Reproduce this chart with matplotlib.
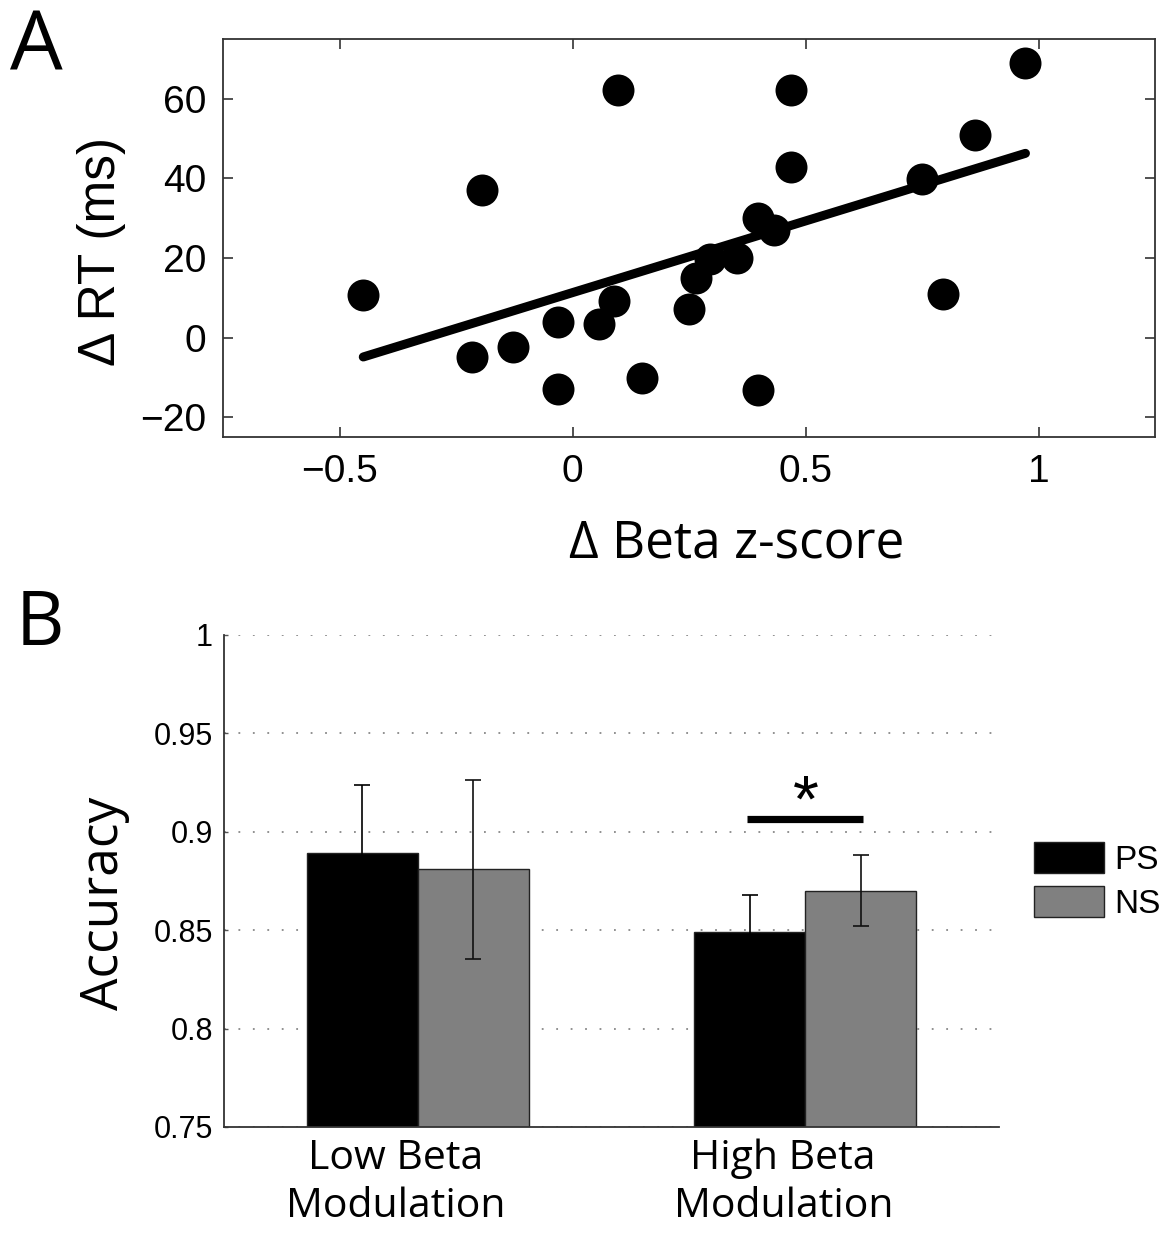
import numpy as np
import matplotlib
matplotlib.use("Agg")
import matplotlib.pyplot as plt
from matplotlib.patches import Patch
from matplotlib.transforms import ScaledTranslation

# panel A: change in beta z-score vs change in RT
beta_z = [-0.449, -0.195, 0.097, -0.215, -0.127, -0.032, -0.032, 0.056, 0.088,
          0.150, 0.249, 0.264, 0.294, 0.354, 0.399, 0.433, 0.399, 0.468, 0.468,
          0.751, 0.796, 0.863, 0.972]
delta_rt = [10.6, 37.1, 62.1, -5.0, -2.5, -12.9, 4.0, 3.5, 9.1,
            -10.3, 7.1, 15.0, 19.7, 19.9, 30.0, 27.0, -13.1, 42.9, 62.3,
            39.9, 10.9, 51.0, 68.9]

# panel B: accuracy per group
groups = ["Low Beta\nModulation", "High Beta\nModulation"]
ps_mean = [0.889, 0.849]
ps_err = [0.035, 0.019]
ns_mean = [0.881, 0.870]
ns_err = [0.0455, 0.018]
sig_x = [1.85, 2.149]
sig_y = 0.9063

helv = "Liberation Sans"
myriad = "Open Sans"
W, H = 1168, 1235

fig = plt.figure(figsize=(W / 100, H / 100), dpi=100)

# ---------------- A ----------------
axA = fig.add_axes([223 / W, 1 - 437 / H, (1155 - 223) / W, (437 - 39) / H])
axA.scatter(beta_z, delta_rt, s=530, color="black", zorder=3, linewidths=0)
coef = np.polyfit(beta_z, delta_rt, 1)
fx = np.array([min(beta_z), max(beta_z)])
axA.plot(fx, np.polyval(coef, fx), color="black", lw=6.5,
         solid_capstyle="round", zorder=2)
axA.set_xlim(-0.75, 1.25)
axA.set_ylim(-25, 75)
axA.set_xticks([-0.5, 0, 0.5, 1])
axA.set_xticklabels(["\u22120.5", "0", "0.5", "1"])
axA.set_yticks([-20, 0, 20, 40, 60])
axA.set_yticklabels(["\u221220", "0", "20", "40", "60"])
axA.tick_params(direction="in", length=7, width=1.2, color="#333333",
                top=True, right=True, labelsize=28, pad=12)
for lab in axA.get_xticklabels() + axA.get_yticklabels():
    lab.set_fontfamily(helv)
for sp in axA.spines.values():
    sp.set_color("#333333")
    sp.set_linewidth(1.3)

fig.text(101 / W, 1 - 251 / H, "\u0394 RT (ms)", rotation=90, ha="center",
         va="center", fontsize=37, family=helv)
fig.text(737 / W, 1 - 557 / H, "\u0394 Beta z-score", ha="center",
         va="baseline", fontsize=37, family=myriad)
fig.text(10 / W, 1 - 70 / H, "A", ha="left", va="baseline", fontsize=60,
         family=myriad)

# ---------------- B ----------------
axB = fig.add_axes([224 / W, 1 - 1127 / H, (999 - 224) / W, (1127 - 635) / H])
x = np.arange(1, len(groups) + 1)
bw = 0.286
axB.bar(x - bw / 2, ps_mean, bw, color="black", edgecolor="#222222",
        linewidth=1, label="PS", zorder=2)
axB.bar(x + bw / 2, ns_mean, bw, color="#808080", edgecolor="#222222",
        linewidth=1, label="NS", zorder=2)
axB.errorbar(x - bw / 2, ps_mean, yerr=ps_err, fmt="none", ecolor="black",
             elinewidth=1.2, capsize=5.5, capthick=1.2, zorder=3)
axB.errorbar(x + bw / 2, ns_mean, yerr=ns_err, fmt="none", ecolor="#111111",
             elinewidth=1.2, capsize=5.5, capthick=1.2, zorder=3)
axB.set_xlim(0.5, 2.5)
axB.set_ylim(0.75, 1.0)
axB.set_yticks([0.75, 0.8, 0.85, 0.9, 0.95, 1.0])
axB.set_yticklabels(["0.75", "0.8", "0.85", "0.9", "0.95", "1"])
axB.yaxis.grid(True, linestyle=(0, (1, 7)), color="#888888", lw=1.3)
axB.set_axisbelow(True)
for s in ["top", "right"]:
    axB.spines[s].set_visible(False)
for s in ["left", "bottom"]:
    axB.spines[s].set_color("#333333")
    axB.spines[s].set_linewidth(1.3)
axB.tick_params(axis="y", direction="in", length=3, width=1, color="#555555",
                labelsize=22, pad=8)
for lab in axB.get_yticklabels():
    lab.set_fontfamily(helv)
axB.set_xticks(x)
axB.set_xticklabels(groups, fontsize=29.5, family=myriad, linespacing=1.25)
axB.tick_params(axis="x", length=0, pad=8)
shift = ScaledTranslation(-22 / 100, 0, fig.dpi_scale_trans)
for lab in axB.get_xticklabels():
    lab.set_transform(lab.get_transform() + shift)

# significance marker
axB.plot(sig_x, [sig_y, sig_y], color="black", lw=5.2, solid_capstyle="butt")
axB.text(np.mean(sig_x) + 0.003, sig_y - 0.001, "*", ha="center",
         va="baseline", fontsize=48, family=helv)

handles = [Patch(facecolor="black", edgecolor="#222222", label="PS"),
           Patch(facecolor="#808080", edgecolor="#222222", label="NS")]
fig.legend(handles=handles, loc="upper left",
           bbox_to_anchor=(1034 / W, 1 - 842 / H), frameon=False,
           prop={"family": helv, "size": 24}, handlelength=2.1,
           handleheight=1.05, labelspacing=0.3, handletextpad=0.3,
           borderpad=0, borderaxespad=0)

fig.text(118 / W, 1 - 903 / H, "Accuracy", rotation=90, rotation_mode="anchor",
         ha="center", va="baseline", fontsize=37, family=myriad)
fig.text(16 / W, 1 - 645 / H, "B", ha="left", va="baseline", fontsize=54,
         family=myriad)

fig.savefig("out.png", dpi=100)
